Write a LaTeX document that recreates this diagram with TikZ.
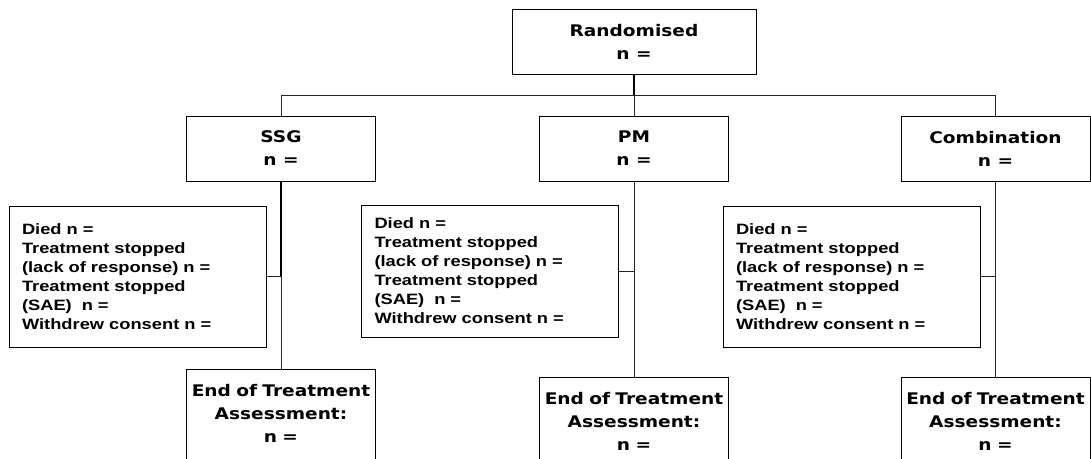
\documentclass[tikz,border=0pt]{standalone}
\usepackage{fontspec}
\usepackage{tikz}
\usetikzlibrary{positioning}
\newfontfamily\headfont{DejaVu Sans}[FakeStretch=1.16]
\newfontfamily\notefont{Liberation Sans}[FakeStretch=1.22]

\begin{document}
\begin{tikzpicture}[x=1pt, y=-1pt,
    headBox/.style={draw, line width=1pt, align=center, minimum width=189pt, minimum height=65pt, inner sep=2pt,
        font={\headfont\bfseries\fontsize{16}{23}\selectfont}},
    endBox/.style={draw, line width=1pt, anchor=north, text width=180pt, align=center, inner xsep=4.5pt, inner ysep=15pt,
        text depth=80pt, font={\headfont\bfseries\fontsize{16}{23}\selectfont}},
    noteBox/.style={draw, line width=1pt, text width=231pt, align=left, inner xsep=13pt, inner ysep=0pt, minimum height=141pt,
        font={\notefont\bfseries\fontsize{15}{19}\selectfont}},
    thinLine/.style={line width=0.8pt, black!85},
    thickLine/.style={line width=1.6pt}]

\useasboundingbox (0,0) rectangle (1091,458);
\clip (0,0) rectangle (1091,458);

% Randomisation and the three arms
\node[headBox, minimum width=244pt] (rand) at (634,41.5) {Randomised\\n =};
\node[headBox] (ssg) at (281,148.5) {SSG\\n =};
\node[headBox] (pm) at (634,148.5) {PM\\n =};
\node[headBox] (comb) at (995.5,148.5) {Combination\\n =};

% Withdrawals per arm
\node[noteBox] (noteS) at (137.5,276.5) {Died n =\\Treatment stopped\\(lack of response) n =\\Treatment stopped\\(SAE)~~n =\\Withdrew consent n =};
\node[noteBox, minimum height=132pt] (noteP) at (490,271) {Died n =\\Treatment stopped\\(lack of response) n =\\Treatment stopped\\(SAE)~~n =\\Withdrew consent n =};
\node[noteBox] (noteC) at (851.5,276.5) {Died n =\\Treatment stopped\\(lack of response) n =\\Treatment stopped\\(SAE)~~n =\\Withdrew consent n =};

% End of treatment
\node[endBox] (endS) at (281,369) {End of Treatment\\Assessment:\\n =};
\node[endBox] (endP) at (634,377) {End of Treatment\\Assessment:\\n =};
\node[endBox] (endC) at (995.5,377) {End of Treatment\\Assessment:\\n =};

% Branching line
\coordinate (busS) at (281,95);
\coordinate (busC) at (995.5,95);
\draw[thinLine] (ssg.north) -- (busS) -- (busC) -- (comb.north);
\draw[thickLine] (rand.south) -- (rand.south |- busS);
\draw[thinLine] (rand.south |- busS) -- (pm.north);

% Stems
\draw[thickLine] (ssg.south) -- (ssg.south |- noteS.east);
\draw[thinLine] (ssg.south |- noteS.east) -- (endS.north);
\draw[thinLine] (pm.south) -- (endP.north);
\draw[thinLine] (comb.south) -- (endC.north);

\draw[thinLine] (noteS.east) -- (noteS.east -| ssg.south);
\draw[thinLine] (noteP.east) -- (noteP.east -| pm.south);
\draw[thinLine] (noteC.east) -- (noteC.east -| comb.south);

\end{tikzpicture}
\end{document}
